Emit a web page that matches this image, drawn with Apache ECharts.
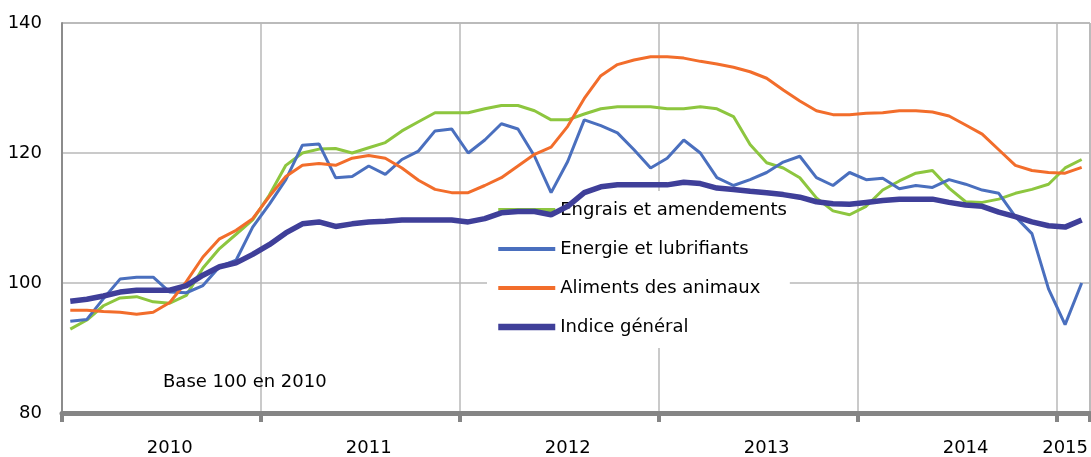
<!DOCTYPE html>
<html>
<head>
<meta charset="utf-8">
<script src="https://cdn.jsdelivr.net/npm/echarts@6/dist/echarts.min.js"></script>
<style>
  html, body { margin: 0; padding: 0; background: #fff; }
  #chart { width: 1091px; height: 457px; }
</style>
</head>
<body>
<div id="chart"></div>
<script>
// monthly, Jan 2010 -> Feb 2015, base 100 en 2010
const years = [2010, 2011, 2012, 2013, 2014, 2015];
const monthsLastYear = 2;

const engrais = [92.9, 94.3, 96.5, 97.7, 97.9, 97.1, 96.9, 98.1, 102.3, 105.3, 107.5, 109.7,
  113.5, 118.1, 120, 120.6, 120.7, 120, 120.8, 121.6, 123.4, 124.8, 126.2, 126.2,
  126.2, 126.8, 127.3, 127.3, 126.5, 125.1, 125.1, 126, 126.8, 127.1, 127.1, 127.1,
  126.8, 126.8, 127.1, 126.8, 125.6, 121.3, 118.5, 117.7, 116.2, 113.1, 111.1, 110.5,
  111.8, 114.3, 115.7, 116.9, 117.3, 114.6, 112.5, 112.4, 112.9, 113.8, 114.4, 115.2,
  117.7, 119];
const energie = [94.1, 94.4, 97.6, 100.6, 100.9, 100.9, 98.6, 98.5, 99.6, 102.5, 103.5, 108.6,
  112.1, 115.9, 121.2, 121.4, 116.2, 116.4, 118, 116.7, 119, 120.3, 123.4, 123.7,
  120, 122, 124.5, 123.7, 119.5, 113.9, 118.7, 125.1, 124.2, 123.1, 120.5, 117.7,
  119.2, 122, 120, 116.2, 115, 115.9, 117, 118.6, 119.5, 116.2, 115, 117,
  115.9, 116.1, 114.5, 115, 114.7, 115.9, 115.2, 114.3, 113.8, 110.2, 107.6, 99.1,
  93.6, 100];
const aliments = [95.8, 95.8, 95.6, 95.5, 95.2, 95.5, 97, 100.2, 104, 106.8, 108.1, 109.9,
  113.3, 116.4, 118.1, 118.4, 118.1, 119.2, 119.6, 119.2, 117.7, 115.8, 114.4, 113.9,
  113.9, 115, 116.2, 118, 119.8, 120.9, 124.1, 128.4, 131.9, 133.6, 134.3, 134.8,
  134.8, 134.6, 134.1, 133.7, 133.2, 132.5, 131.5, 129.7, 128, 126.5, 125.9, 125.9,
  126.1, 126.2, 126.5, 126.5, 126.3, 125.7, 124.3, 122.9, 120.5, 118.1, 117.3, 117,
  116.9, 117.8];
const indice = [97.2, 97.5, 98, 98.6, 98.9, 98.9, 98.9, 99.6, 101.2, 102.5, 103.1, 104.4,
  105.9, 107.7, 109.1, 109.4, 108.7, 109.1, 109.4, 109.5, 109.7, 109.7, 109.7, 109.7,
  109.4, 109.9, 110.8, 111, 111, 110.5, 111.8, 113.9, 114.8, 115.1, 115.1, 115.1,
  115.1, 115.5, 115.3, 114.6, 114.4, 114.1, 113.9, 113.6, 113.2, 112.5, 112.2, 112.1,
  112.4, 112.7, 112.9, 112.9, 112.9, 112.4, 112, 111.8, 110.9, 110.2, 109.4, 108.8,
  108.6, 109.7];

const months = [];
years.forEach((y, k) => {
  const n = k === years.length - 1 ? monthsLastYear : 12;
  for (let m = 1; m <= n; m++) months.push(y + '-' + (m < 10 ? '0' + m : m));
});
// which month carries the year label
const yearLabelIdx = [6, 18, 30, 42, 54, 60];

const font = 'DejaVu Sans';

const option = {
  animation: false,
  grid: { left: 62, right: 1, top: 23, bottom: 43, show: true, borderColor: '#8c8c8c', borderWidth: 1 },
  legend: {
    orient: 'vertical', left: 487, top: 191, z: 1,
    padding: [10, 3, 12, 8],
    backgroundColor: '#fff',
    itemWidth: 57, itemHeight: 20, itemGap: 21,
    itemStyle: { opacity: 0 },
    lineStyle: { opacity: 1 },
    textStyle: { fontFamily: font, fontSize: 18, color: '#000' },
    data: [
      { name: 'Engrais et amendements', lineStyle: { width: 4, opacity: 1 } },
      { name: 'Energie et lubrifiants', lineStyle: { width: 4, opacity: 1 } },
      { name: 'Aliments des animaux', lineStyle: { width: 4, opacity: 1 } },
      { name: 'Indice général', lineStyle: { width: 6.5, opacity: 1 } }
    ]
  },
  xAxis: {
    type: 'category', data: months, boundaryGap: true,
    axisLine: { lineStyle: { color: '#858585', width: 5 } },
    axisTick: { show: true, length: 9, interval: (i) => i % 12 === 0, lineStyle: { color: '#858585', width: 4 } },
    axisLabel: {
      interval: (i) => yearLabelIdx.indexOf(i) >= 0,
      formatter: (v) => v.slice(0, 4),
      fontFamily: font, fontSize: 18, color: '#000', margin: 26
    },
    splitLine: { show: true, interval: (i) => i % 12 === 0, lineStyle: { color: '#b8b8b8', width: 1.5 } }
  },
  yAxis: {
    type: 'value', min: 80, max: 140, interval: 20,
    axisLine: { show: true, lineStyle: { color: '#8c8c8c', width: 2 } },
    axisTick: { show: false },
    axisLabel: { fontFamily: font, fontSize: 18, color: '#000', margin: 20 },
    splitLine: { lineStyle: { color: '#b8b8b8', width: 1.5 } }
  },
  graphic: [{
    type: 'text', left: 163, top: 373, z: 10,
    style: { text: 'Base 100 en 2010', font: '18px "DejaVu Sans"', fill: '#000' }
  }],
  series: [
    { name: 'Engrais et amendements', type: 'line', data: engrais, symbol: 'none', z: 3,
      color: '#8dc63f', lineStyle: { width: 3 } },
    { name: 'Energie et lubrifiants', type: 'line', data: energie, symbol: 'none', z: 3,
      color: '#4a6fbe', lineStyle: { width: 3 } },
    { name: 'Aliments des animaux', type: 'line', data: aliments, symbol: 'none', z: 3,
      color: '#f26d2b', lineStyle: { width: 3 } },
    { name: 'Indice général', type: 'line', data: indice, symbol: 'none', z: 3,
      color: '#3f3f99', lineStyle: { width: 5.5 } }
  ]
};

echarts.init(document.getElementById('chart')).setOption(option);
</script>
</body>
</html>
